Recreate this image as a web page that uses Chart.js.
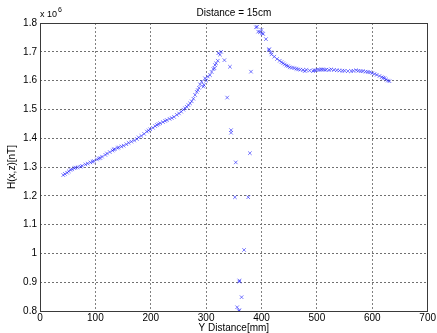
<!DOCTYPE html>
<html><head><meta charset="utf-8">
<script src="https://cdn.jsdelivr.net/npm/chart.js@4.4.0/dist/chart.umd.min.js"></script>
<style>html,body{margin:0;padding:0;background:#fff;}#wrap{width:437px;height:333px;}</style>
</head><body><div id="wrap"><canvas id="c" width="437" height="333"></canvas></div>
<script>
const titleText = "Distance = 15cm";
const xLabel = "Y Distance[mm]";
const yLabel = "H(x,z)[nT]";
const xTicks = [0,100,200,300,400,500,600,700];
const yTicks = [0.8,0.9,1.0,1.1,1.2,1.3,1.4,1.5,1.6,1.7,1.8];
// Y Distance [mm]
const xVals = [42,45,49,52,55,58,62,64,68,73,76,82,86,91,95,97,103,106,109,112,118,121,126,131,133,135,140,142,147,151,156,160,165,170,175,178,183,188,193,196,199,204,208,211,214,217,222,226,229,234,238,242,247,251,255,259,262,265,268,271,274,277,280,283,285,287,289,292,295,296,298,300,303,307,310,313,315,316,318,321,322,325,327,
333,338,343,345,345,353.5,352,376,379,368.5,360,360,364,356,360,359,381,
390,392,394,397,400,401,403,408,413,414,417,418,423,428,433,436,439,442,445,448,451,455,459,463,466,470,475,478,481,487,493,495,498,502,505,508,511,514,517,522,526,531,536,541,546,550,556,562,566,571,575,579,583,588,592,596,600,604,608,613,617,620,622,625,628,631];
// H(x,z) [nT] x 10^6
const hVals = [1.272,1.276,1.280,1.285,1.290,1.292,1.296,1.298,1.299,1.301,1.304,1.309,1.312,1.316,1.318,1.321,1.326,1.330,1.331,1.336,1.342,1.347,1.352,1.357,1.361,1.362,1.366,1.368,1.371,1.374,1.379,1.384,1.388,1.392,1.397,1.403,1.408,1.415,1.423,1.427,1.431,1.436,1.442,1.446,1.449,1.452,1.456,1.460,1.463,1.467,1.470,1.474,1.481,1.486,1.492,1.499,1.504,1.509,1.515,1.521,1.528,1.537,1.550,1.561,1.567,1.575,1.587,1.596,1.579,1.585,1.608,1.600,1.614,1.619,1.630,1.640,1.643,1.654,1.660,1.669,1.695,1.690,1.700,
1.671,1.541,1.648,1.428,1.419,1.316,1.195,1.195,1.348,1.012,0.902,0.906,0.848,0.813,0.803,0.800,1.631,
1.785,1.787,1.770,1.768,1.776,1.764,1.762,1.744,1.706,1.709,1.698,1.691,1.683,1.675,1.669,1.664,1.660,1.656,1.652,1.650,1.646,1.645,1.643,1.641,1.639,1.638,1.637,1.633,1.637,1.635,1.633,1.636,1.636,1.638,1.637,1.639,1.639,1.637,1.638,1.637,1.639,1.637,1.636,1.635,1.634,1.634,1.633,1.633,1.634,1.636,1.634,1.633,1.633,1.631,1.630,1.629,1.626,1.623,1.620,1.616,1.612,1.610,1.608,1.604,1.600,1.598];

const pts = xVals.map((x,i)=>({x:x, y:hVals[i]}));
const FONT = "Liberation Sans, Arial, Helvetica, sans-serif";

const decor = {
  id:'decor',
  afterDraw(chart){
    const ctx = chart.ctx, a = chart.chartArea;
    ctx.save();
    ctx.strokeStyle = '#3a3a3a'; ctx.lineWidth = 1; ctx.setLineDash([]);
    ctx.strokeRect(Math.round(a.left)+0.5, Math.round(a.top)+0.5, Math.round(a.right-a.left)-1, Math.round(a.bottom-a.top));
    ctx.fillStyle = '#000';
    ctx.font = "10px " + FONT;
    ctx.textAlign = 'center'; ctx.textBaseline = 'middle';
    const cx = (a.left + a.right)/2;
    ctx.fillText(titleText, cx, 13);
    ctx.fillText(xLabel, cx, 328);
    ctx.save();
    ctx.translate(12, (a.top + a.bottom)/2);
    ctx.rotate(-Math.PI/2);
    ctx.fillText(yLabel, 0, 0);
    ctx.restore();
    ctx.textAlign = 'left';
    ctx.font = "9px " + FONT;
    ctx.fillText("x 10", a.left, 15);
    ctx.font = "7px " + FONT;
    ctx.fillText("6", a.left + 18, 10);
    ctx.restore();
  }
};

new Chart(document.getElementById('c'), {
  type:'scatter',
  data:{datasets:[{
    data: pts,
    showLine:false,
    pointStyle:'crossRot',
    pointRadius:2.5,
    pointHoverRadius:2.5,
    borderColor:'rgba(30,30,255,0.6)',
    backgroundColor:'rgba(30,30,255,0.6)',
    pointBorderWidth:1
  }]},
  options:{
    responsive:false, animation:false,
    layout:{padding:{top:23, right:8, left:0, bottom:0}},
    plugins:{legend:{display:false}, tooltip:{enabled:false}, title:{display:false}},
    scales:{
      x:{
        type:'linear', min:0, max:700,
        afterBuildTicks(s){ s.ticks = xTicks.map(v=>({value:v})); },
        afterFit(s){ s.height = 22; },
        ticks:{ color:'#000', font:{family:FONT, size:10}, padding:1, maxRotation:0, callback:v=>String(v) },
        grid:{ color:'#808080', lineWidth:1, drawTicks:false },
        border:{ display:false, dash:[2,2] }
      },
      y:{
        type:'linear', min:0.8, max:1.8,
        afterBuildTicks(s){ s.ticks = yTicks.map(v=>({value:v})); },
        afterFit(s){ s.width = 40; },
        ticks:{ color:'#000', font:{family:FONT, size:10}, padding:3, callback:v=>String(Math.round(v*10)/10) },
        grid:{ color:'#707070', lineWidth:1, drawTicks:false },
        border:{ display:false, dash:[2,2] }
      }
    }
  },
  plugins:[decor]
});
</script></body></html>
